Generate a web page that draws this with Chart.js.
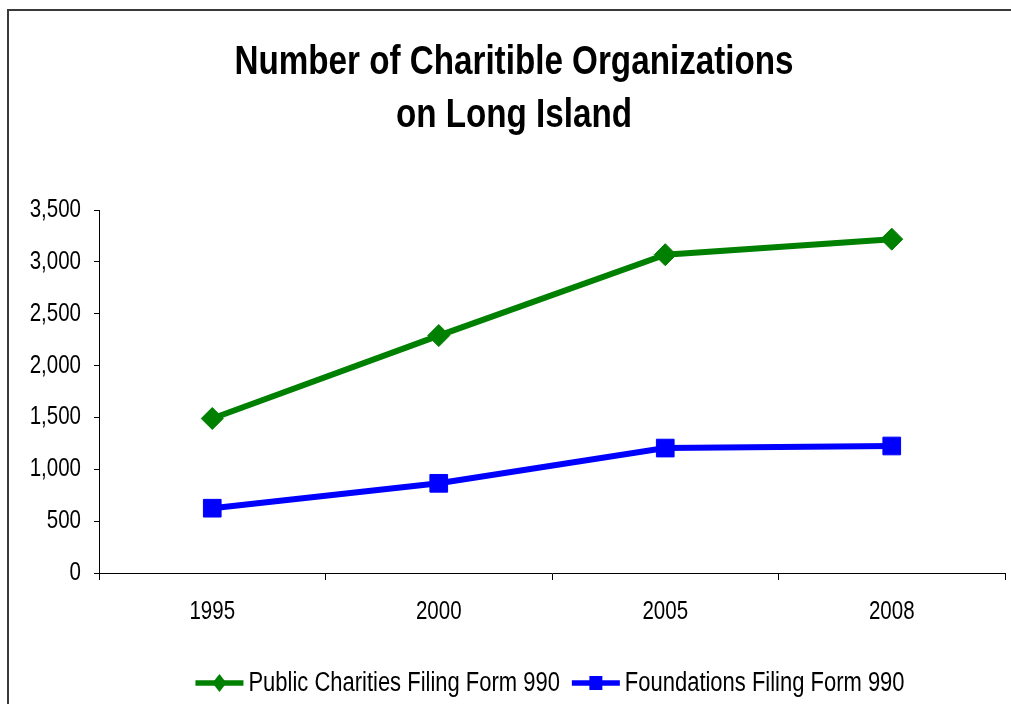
<!DOCTYPE html>
<html>
<head>
<meta charset="utf-8">
<script src="https://cdn.jsdelivr.net/npm/chart.js@4/dist/chart.umd.min.js"></script>
<style>
  html, body { margin: 0; padding: 0; background: #ffffff; }
  #wrap { width: 1011px; height: 704px; position: relative; }
</style>
</head>
<body>
<div id="wrap"><canvas id="c" width="1011" height="704"></canvas></div>
<script>
const years = ['1995', '2000', '2005', '2008'];
const publicCharities = [1490, 2290, 3070, 3220];
const foundations = [625, 865, 1205, 1225];
const seriesNames = ['Public Charities Filing Form 990', 'Foundations Filing Form 990'];
const titleLines = ['Number of Charitible Organizations', 'on Long Island'];

const FONT = '"Liberation Sans", Arial, sans-serif';
const GREEN = '#008000';
const BLUE = '#0000FF';
const NARROW = 0.82; // horizontal condensing to mimic a narrow sans face

const canvas = document.getElementById('c');
const ctx2d = canvas.getContext('2d');
const origFill = ctx2d.fillText.bind(ctx2d);
const origMeasure = ctx2d.measureText.bind(ctx2d);
ctx2d.fillText = function (t, x, y, mw) {
  this.save();
  this.translate(x, y);
  this.scale(NARROW, 1);
  if (mw !== undefined) origFill(t, 0, 0, mw / NARROW); else origFill(t, 0, 0);
  this.restore();
};
ctx2d.measureText = function (t) {
  const m = origMeasure(t);
  return {
    width: m.width * NARROW,
    actualBoundingBoxLeft: m.actualBoundingBoxLeft * NARROW,
    actualBoundingBoxRight: m.actualBoundingBoxRight * NARROW,
    actualBoundingBoxAscent: m.actualBoundingBoxAscent,
    actualBoundingBoxDescent: m.actualBoundingBoxDescent,
    fontBoundingBoxAscent: m.fontBoundingBoxAscent,
    fontBoundingBoxDescent: m.fontBoundingBoxDescent
  };
};

const frame = {
  id: 'frame',
  beforeDraw(chart) {
    const ctx = chart.ctx;
    ctx.save();
    ctx.fillStyle = '#ffffff';
    ctx.fillRect(0, 0, chart.width, chart.height);
    ctx.strokeStyle = '#3a3a3a';
    ctx.lineWidth = 2;
    ctx.beginPath();
    ctx.moveTo(8, chart.height + 5);
    ctx.lineTo(8, 10);
    ctx.lineTo(chart.width + 5, 10);
    ctx.stroke();
    ctx.restore();
  }
};

const customLegend = {
  id: 'customLegend',
  afterDraw(chart) {
    const ctx = chart.ctx;
    ctx.save();
    ctx.font = '26.8px ' + FONT;
    const w1 = ctx.measureText(seriesNames[0]).width;
    const w2 = ctx.measureText(seriesNames[1]).width;
    const lineLen = 48, gapT = 5, gapI = 12;
    const total = lineLen + gapT + w1 + gapI + lineLen + gapT + w2;
    const ca = chart.chartArea;
    let x = (ca.left + ca.right) / 2 - total / 2 - 2;
    const y = 683;
    const colors = [GREEN, BLUE];
    const widths = [w1, w2];
    for (let i = 0; i < 2; i++) {
      ctx.strokeStyle = colors[i];
      ctx.lineWidth = 5.5;
      ctx.beginPath();
      ctx.moveTo(x, y);
      ctx.lineTo(x + lineLen, y);
      ctx.stroke();
      const cx = x + lineLen / 2;
      ctx.fillStyle = colors[i];
      ctx.beginPath();
      if (i === 0) {
        ctx.moveTo(cx, y - 9);
        ctx.lineTo(cx + 7, y);
        ctx.lineTo(cx, y + 9);
        ctx.lineTo(cx - 7, y);
        ctx.closePath();
      } else {
        ctx.rect(cx - 6.5, y - 7, 13, 14);
      }
      ctx.fill();
      ctx.fillStyle = '#000000';
      ctx.textBaseline = 'middle';
      ctx.textAlign = 'left';
      ctx.fillText(seriesNames[i], x + lineLen + gapT, y + 1);
      x += lineLen + gapT + widths[i] + gapI;
    }
    ctx.restore();
  }
};

new Chart(canvas, {
  type: 'line',
  data: {
    labels: years,
    datasets: [
      {
        label: seriesNames[0],
        data: publicCharities,
        borderColor: GREEN,
        backgroundColor: GREEN,
        borderWidth: 6,
        pointStyle: 'rectRot',
        pointRadius: 11,
        pointBorderWidth: 1,
        pointBackgroundColor: GREEN,
        pointBorderColor: GREEN,
        tension: 0,
        fill: false
      },
      {
        label: seriesNames[1],
        data: foundations,
        borderColor: BLUE,
        backgroundColor: BLUE,
        borderWidth: 6,
        pointStyle: 'rect',
        pointRadius: 12.5,
        pointBorderWidth: 1,
        pointBackgroundColor: BLUE,
        pointBorderColor: BLUE,
        tension: 0,
        fill: false
      }
    ]
  },
  options: {
    responsive: false,
    animation: false,
    events: [],
    layout: { autoPadding: false, padding: { left: 23, right: 6, top: 0, bottom: 71 } },
    plugins: {
      legend: { display: false },
      tooltip: { enabled: false },
      title: {
        display: true,
        text: titleLines,
        color: '#000000',
        font: { family: FONT, size: 40.5, weight: 'bold', lineHeight: 1.31 },
        padding: { top: 36, bottom: 68 }
      }
    },
    scales: {
      x: {
        type: 'category',
        offset: true,
        afterFit(scale) { scale.height = 60; scale.paddingLeft = 0; scale.paddingRight = 0; },
        grid: {
          offset: true,
          drawOnChartArea: false,
          drawTicks: true,
          tickLength: 7,
          color: '#000000',
          lineWidth: 1
        },
        border: { display: true, color: '#000000', width: 1 },
        ticks: {
          color: '#000000',
          padding: 17,
          font: { family: FONT, size: 25 }
        }
      },
      y: {
        min: 0,
        max: 3500,
        afterFit(scale) { scale.width = 76; scale.paddingTop = 0; scale.paddingBottom = 0; },
        grid: {
          drawOnChartArea: false,
          drawTicks: true,
          tickLength: 5,
          color: '#000000',
          lineWidth: 1
        },
        border: { display: true, color: '#000000', width: 1 },
        ticks: {
          stepSize: 500,
          color: '#000000',
          padding: 13,
          font: { family: FONT, size: 25 },
          callback: (v) => Number(v).toLocaleString('en-US')
        }
      }
    }
  },
  plugins: [frame, customLegend]
});
</script>
</body>
</html>
